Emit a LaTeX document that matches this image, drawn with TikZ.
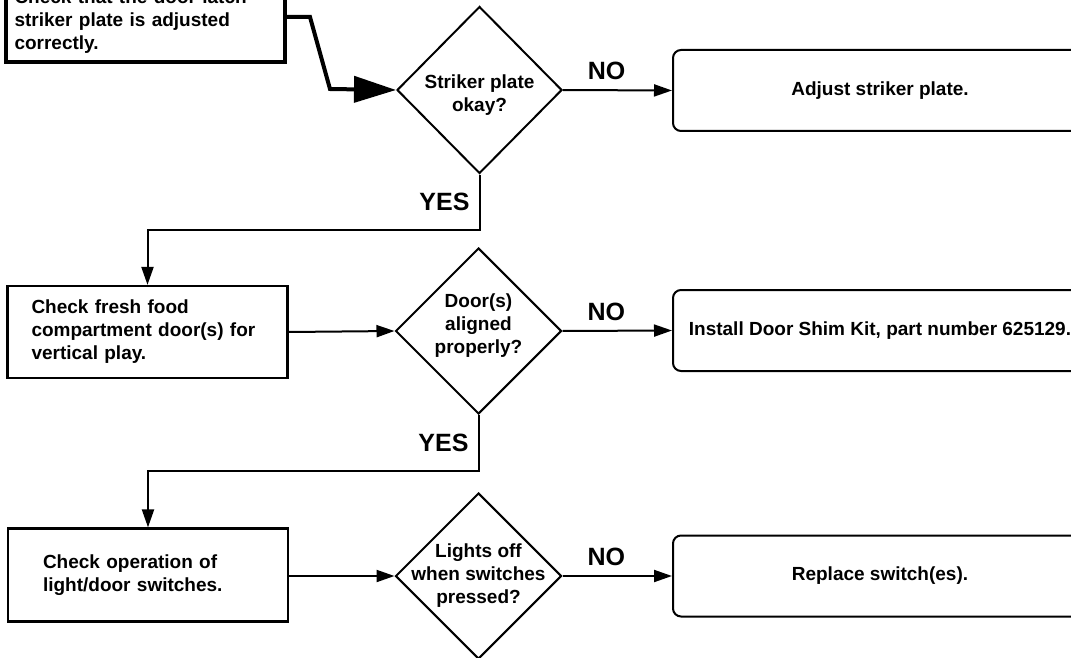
\documentclass[tikz,border=0pt]{standalone}
\usepackage{fontspec}
\setmainfont{Liberation Sans}
\usetikzlibrary{arrows.meta,positioning,shapes.geometric}

\begin{document}
\begin{tikzpicture}[x=1pt,y=-1pt,every node/.style={font=\fontsize{19}{23}\selectfont\bfseries,align=center}]
\tikzset{stepbox/.style={draw,line width=2.2pt,minimum width=279pt,minimum height=92pt,align=left,inner ysep=0pt},
  decision/.style={draw,diamond,line width=2pt,minimum width=166pt,minimum height=166pt,inner sep=0pt},
  fixbox/.style={draw,rounded corners=8pt,line width=2pt,minimum width=414pt,minimum height=81pt},
  lbl/.style={font=\fontsize{25}{25}\selectfont\bfseries,inner sep=0pt},
  flow/.style={-{Triangle[length=18pt,width=12pt]},line width=2pt}}
\useasboundingbox (0,0) rectangle (1071,658);
\clip (0,0) rectangle (1071,658);
% left column
\node[stepbox,line width=4pt,minimum height=80pt,text width=262pt,inner xsep=8pt] (b0) at (145.5,22) {Check that the door latch\\striker plate is adjusted\\correctly.};
\node[stepbox,text width=232pt,inner xsep=24pt] (b1) at (147.5,332) {Check fresh food\\compartment door(s) for\\vertical play.};
\node[stepbox,minimum height=93pt,text width=210pt,inner xsep=35pt] (b2) at (148,575) {Check operation of\\light/door switches.};
% questions
\node[decision,minimum width=165pt,minimum height=167pt] (d0) at (479.5,90) {};
\node[yshift=-5pt] (d0t) at (d0) {Striker plate\\okay?};
\node[decision] (d1) at (478.5,331) {};
\node[yshift=5pt] (d1t) at (d1) {Door(s)\\aligned\\properly?};
\node[decision] (d2) at (478.5,576) {};
\node (d2t) at (d2) {Lights off\\when switches\\pressed?};
% fixes
\node[fixbox] (r0) at (880,90.5) {Adjust striker plate.};
\node[fixbox] (r1) at (880,330.5) {Install Door Shim Kit, part number 625129.};
\node[fixbox] (r2) at (880,576) {Replace switch(es).};
% connectors
\draw[line width=4pt,-{Triangle[length=42pt,width=26pt]}] ([yshift=5pt]b0.east) -- ++(23,0) -- ++(20,72) -- (d0.west);
\draw[flow] (d0.east) -- node[lbl,above=9pt,pos=0.4]{NO} (r0.west);
\draw[flow] (d0.south) -- node[lbl,left=9pt]{YES} ++(0,55) -| (b1.north);
\draw[flow] (b1.east) -- (d1.west);
\draw[flow] (d1.east) -- node[lbl,above=9pt,pos=0.4]{NO} (r1.west);
\draw[flow] (d1.south) -- node[lbl,left=9pt]{YES} ++(0,56) -| (b2.north);
\draw[flow] (b2.east |- d2.west) -- (d2.west);
\draw[flow] (d2.east) -- node[lbl,above=9pt,pos=0.4]{NO} (r2.west);
\end{tikzpicture}
\end{document}
